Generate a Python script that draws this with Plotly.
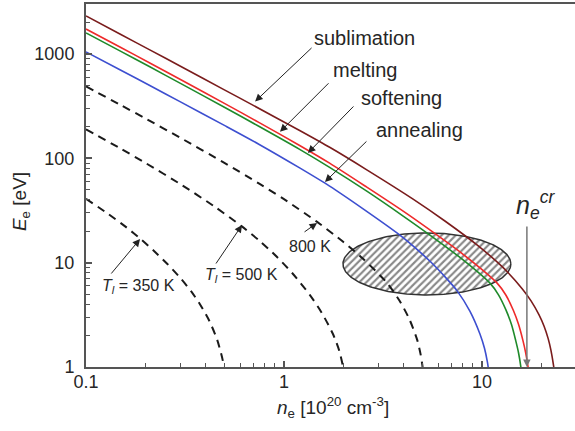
import numpy as np
import plotly.graph_objects as go

# ---- data (n_e in 1e20 cm^-3, E_e in eV) ----
n_sublimation = [0.1, 0.15, 0.21, 0.3, 0.5, 0.7, 1.2, 1.71, 2.62, 4.49, 6.5, 9.44, 12.8, 16.0, 17.7, 19.4, 20.6, 21.6, 22.3, 23.0, 23.4]
E_sublimation = [2320, 1540, 1097, 764, 454, 322, 185, 127, 77.7, 40.7, 25.1, 14.8, 8.96, 5.61, 4.31, 3.18, 2.46, 1.87, 1.45, 1.03, 0.8]

n_melting = [0.1, 0.15, 0.21, 0.3, 0.5, 0.75, 1.2, 1.7, 2.62, 4.0, 5.46, 8.0, 11.9, 13.2, 14.4, 15.3, 16.1, 16.6, 17.1, 17.4]
E_melting = [1740, 1156, 822, 571, 337, 220, 133, 90, 53, 31.2, 20.6, 12.1, 6.4, 4.9, 3.5, 2.57, 1.8, 1.39, 1.0, 0.7]

n_softening = [0.1, 0.15, 0.21, 0.3, 0.5, 0.75, 1.2, 1.7, 2.62, 4.0, 5.46, 8.0, 10.95, 12.1, 13.2, 14.1, 14.8, 15.3, 15.7, 16.0]
E_softening = [1595, 1062, 755, 524, 309, 202, 122, 82, 48.5, 28.0, 18.4, 10.7, 6.4, 4.95, 3.55, 2.55, 1.8, 1.37, 1.02, 0.7]

n_annealing = [0.1, 0.15, 0.21, 0.3, 0.5, 0.75, 1.2, 1.7, 2.5, 3.72, 4.23, 5.5, 6.65, 7.48, 8.69, 9.77, 10.3, 10.65, 10.75, 10.9]
E_annealing = [1050, 700, 500, 348, 207, 136, 81, 54.2, 33.0, 19.3, 15.9, 10.2, 7.0, 5.4, 3.43, 2.07, 1.51, 1.12, 1.0, 0.8]

n_T350 = [0.1, 0.13, 0.16, 0.19, 0.22, 0.257, 0.3, 0.34, 0.377, 0.42, 0.46, 0.49, 0.505]
E_T350 = [41, 29.2, 21.8, 16.7, 13.0, 9.77, 7.11, 5.30, 3.98, 2.76, 1.82, 1.17, 0.81]

n_T500 = [0.1, 0.15, 0.2, 0.3, 0.45, 0.61, 0.75, 0.92, 1.1, 1.35, 1.55, 1.77, 1.9, 1.98, 2.02]
E_T500 = [190, 123.7, 90.2, 56.6, 34.1, 22.4, 16.3, 11.4, 7.96, 4.92, 3.32, 2.06, 1.44, 1.04, 0.82]

n_T800 = [0.1, 0.15, 0.2, 0.3, 0.5, 0.75, 1.0, 1.47, 1.99, 2.5, 3.31, 3.85, 4.3, 4.7, 4.9, 5.0, 5.05]
E_T800 = [490, 323.8, 240.8, 157.3, 90.6, 57.3, 40.6, 24.6, 15.85, 10.96, 6.43, 4.27, 2.87, 1.84, 1.32, 1.04, 0.87]

x_ticks = [0.1, 1, 10]
x_ticktext = ["0.1", "1", "10"]
y_ticks = [1, 10, 100, 1000]
y_ticktext = ["1", "10", "100", "1000"]

FONT = "Liberation Sans, Arial, sans-serif"
TXT = "#262626"
AX = "#555555"

fig = go.Figure()

# hatched ellipse (geometry in log10 space)
cx, cy, rx, ry = 0.722, 0.988, 0.424, 0.297
th = np.linspace(0, 2 * np.pi, 240)
ex = 10 ** (cx + rx * np.cos(th))
ey = 10 ** (cy + ry * np.sin(th))
fig.add_trace(go.Scatter(
    x=ex, y=ey, mode="lines", fill="toself", fillcolor="white",
    fillpattern=dict(shape="/", fgcolor="#111111", bgcolor="white", size=5, solidity=0.42),
    line=dict(color="#333333", width=1.5), hoverinfo="skip", showlegend=False))

dash_style = dict(color="#1a1a1a", width=2, dash="8px,6px")
for nx, ey_ in [(n_T350, E_T350), (n_T500, E_T500), (n_T800, E_T800)]:
    fig.add_trace(go.Scatter(x=nx, y=ey_, mode="lines", line=dict(**dash_style, shape="spline", smoothing=0.7),
                             showlegend=False, hoverinfo="skip"))

for nx, ey_, col in [(n_annealing, E_annealing, "#3d4fd0"),
                     (n_softening, E_softening, "#1f8a2a"),
                     (n_melting, E_melting, "#ee2a2a"),
                     (n_sublimation, E_sublimation, "#7a1c1c")]:
    fig.add_trace(go.Scatter(x=nx, y=ey_, mode="lines",
                             line=dict(color=col, width=1.6, shape="spline", smoothing=0.7),
                             showlegend=False, hoverinfo="skip"))

ann = []
def arrow(tx, ty, axp, ayp, color="#222222", width=1.0, size=1.5):
    ann.append(dict(x=tx, y=ty, xref="x", yref="y", ax=axp, ay=ayp, text="",
                    showarrow=True, arrowhead=2, arrowsize=size, arrowwidth=width,
                    arrowcolor=color, standoff=0, startstandoff=0))

def label(tx, ty, text, size=19, xanchor="left"):
    ann.append(dict(x=tx, y=ty, xref="x", yref="y", text=text, showarrow=False,
                    xanchor=xanchor, yanchor="middle",
                    font=dict(family=FONT, size=size, color=TXT)))

# curve labels + arrows (annotation coords on log axes are log10 values)
arrow(-0.146, 2.545, 58, -55)
label(0.140, 3.154, "sublimation", size=20)
arrow(-0.020, 2.255, 50, -50)
label(0.238, 2.848, "melting", size=20)
arrow(0.121, 2.052, 47, -48)
label(0.380, 2.579, "softening", size=20)
arrow(0.207, 1.774, 43, -42)
label(0.456, 2.272, "annealing", size=20)

arrow(-0.727, 1.227, -30, 36)
label(-0.929, 0.767, "<i>T</i><sub><i>l</i></sub> = 350 K", size=16)
arrow(-0.212, 1.361, -27, 40)
label(-0.409, 0.882, "<i>T</i><sub><i>l</i></sub> = 500 K", size=16)
arrow(0.167, 1.381, -14, 10)
label(0.015, 1.151, "800 K", size=16)

arrow(1.227, 0.0, 0, -142, color="#777777", width=1.5, size=1.0)
label(1.162, 1.55, "<i>n</i><sub><i>e</i></sub><sup><i>cr</i></sup>", size=25)

# axis titles
ann.append(dict(x=-0.133, y=0.457, xref="paper", yref="paper", text="<i>E</i><sub>e</sub> [eV]",
                xanchor="center", yanchor="middle",
                textangle=-90, showarrow=False, font=dict(family=FONT, size=19, color=TXT)))
ann.append(dict(x=0.505, y=-0.112, xref="paper", yref="paper",
                xanchor="center", yanchor="middle",
                text="<i>n</i><sub>e</sub> [10<sup>20</sup> cm<sup>-3</sup>]",
                showarrow=False, font=dict(family=FONT, size=19, color=TXT)))

fig.update_layout(
    width=575, height=431, margin=dict(l=86, r=0, t=4, b=64),
    paper_bgcolor="white", plot_bgcolor="white", showlegend=False,
    annotations=ann,
    font=dict(family=FONT, size=18, color=TXT),
)
fig.update_xaxes(type="log", range=[-1, 1.47], tickmode="array", tickvals=x_ticks, ticktext=x_ticktext,
                 ticks="inside", ticklen=6, tickwidth=1.5, tickcolor=AX,
                 showline=True, linecolor=AX, linewidth=2, mirror=True, showgrid=False, zeroline=False,
                 minor=dict(ticks="inside", ticklen=4, tickwidth=1.2, tickcolor=AX, showgrid=False,
                            tickvals=[v * k for v in [0.1, 1, 10] for k in range(2, 10)]),
                 tickfont=dict(family=FONT, size=18, color=TXT), ticklabelstandoff=-3)
fig.update_yaxes(type="log", range=[0, 3.48], tickmode="array", tickvals=y_ticks, ticktext=y_ticktext,
                 ticks="inside", ticklen=6, tickwidth=1.5, tickcolor=AX,
                 showline=True, linecolor=AX, linewidth=2, mirror=False, showgrid=False, zeroline=False,
                 minor=dict(ticks="inside", ticklen=4, tickwidth=1.2, tickcolor=AX, showgrid=False,
                            tickvals=[v * k for v in [1, 10, 100, 1000] for k in range(2, 10)]),
                 tickfont=dict(family=FONT, size=18, color=TXT), ticklabelstandoff=6)

fig.write_html("out.html")
